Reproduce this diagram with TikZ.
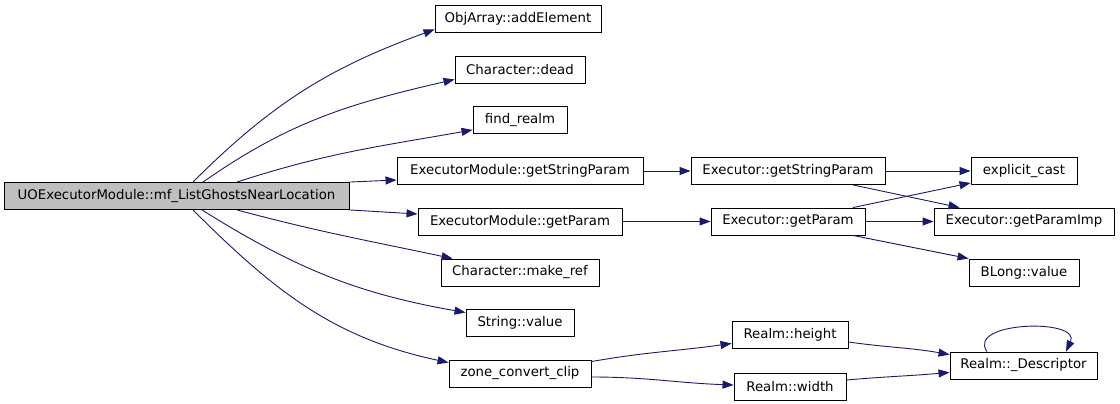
\documentclass[tikz,border=0pt]{standalone}
\usepackage{fontspec}
\setmainfont{DejaVu Sans}
\usetikzlibrary{arrows.meta}
\definecolor{edgeblue}{HTML}{191970}
\definecolor{maingray}{HTML}{BFBFBF}

\begin{document}
\begin{tikzpicture}[
    x=1pt, y=1pt,
    >={Triangle[length=11pt, width=8pt]},
    fnode/.style={draw=black, line width=0.9pt, minimum height=27pt,
                  inner sep=0pt, fill=white,
                  font=\fontsize{13.3}{16}\selectfont},
    call/.style={->, draw=edgeblue, line width=0.9pt}
  ]
  \useasboundingbox[fill=white] (0,0) rectangle (1120,-404);

  \node[fnode, fill=maingray, minimum width=345pt] (main) at (176.5,-196)
    {UOExecutorModule::mf\_ListGhostsNearLocation};

  \node[fnode, minimum width=166pt] (objarray)   at (518,-18.5)  {ObjArray::addElement};
  \node[fnode, minimum width=130pt] (chardead)   at (520,-69.5)  {Character::dead};
  \node[fnode, minimum width=94pt]  (findrealm)  at (520,-120)   {find\_realm};
  \node[fnode, minimum width=246pt] (emstring)   at (520,-171)   {ExecutorModule::getStringParam};
  \node[fnode, minimum width=204pt] (emparam)    at (520,-221.5) {ExecutorModule::getParam};
  \node[fnode, minimum width=158pt] (makeref)    at (520,-272.5) {Character::make\_ref};
  \node[fnode, minimum width=108pt] (strvalue)   at (520,-322.5) {String::value};
  \node[fnode, minimum width=142pt] (zoneclip)   at (520,-373.5) {zone\_convert\_clip};

  \node[fnode, minimum width=194pt] (exstring)    at (788,-171)   {Executor::getStringParam};
  \node[fnode, minimum width=154pt] (exparam)     at (788,-221.5) {Executor::getParam};
  \node[fnode, minimum width=116pt] (realmheight) at (790,-334.5) {Realm::height};
  \node[fnode, minimum width=112pt] (realmwidth)  at (790,-386.5) {Realm::width};

  \node[fnode, minimum width=106pt] (explicitcast) at (1024,-171)   {explicit\_cast};
  \node[fnode, minimum width=180pt] (paramimp)     at (1024,-221.5) {Executor::getParamImp};
  \node[fnode, minimum width=110pt] (blongvalue)   at (1024,-272.5) {BLong::value};
  \node[fnode, minimum width=147pt] (descriptor)   at (1023.5,-365.5) {Realm::\_Descriptor};

  \draw[call] ([xshift=16.5pt]main.north) to[out=45, in=200] ([yshift=3pt]objarray.south west);
  \draw[call] ([xshift=26.5pt]main.north) to[out=35, in=193] ([yshift=4pt]chardead.south west);
  \draw[call] ([xshift=60.5pt]main.north) to[out=18, in=190] ([yshift=4pt]findrealm.south west);
  \draw[call] (main.north east) -- ([yshift=-9pt]emstring.west);
  \draw[call] (main.south east) -- ([yshift=7.5pt]emparam.west);
  \draw[call] ([xshift=60.5pt]main.south) to[out=-15, in=168] ([xshift=12pt]makeref.north west);
  \draw[call] ([xshift=25.5pt]main.south) to[out=-32, in=170] ([yshift=-4pt]strvalue.north west);
  \draw[call] ([xshift=16.5pt]main.south) to[out=-45, in=168] ([yshift=-3pt]zoneclip.north west);

  \draw[call] (emstring) -- (exstring);
  \draw[call] (emparam) -- (exparam);
  \draw[call] (exstring) -- (explicitcast);
  \draw[call] ([xshift=65pt]exstring.south) -- ([xshift=26pt]paramimp.north west);
  \draw[call] ([xshift=65pt]exparam.north) -- ([yshift=2pt]explicitcast.south west);
  \draw[call] (exparam) -- (paramimp);
  \draw[call] ([xshift=65pt]exparam.south) -- (blongvalue.north west);

  \draw[call] ([yshift=-2pt]zoneclip.north east) to[out=10, in=188] ([yshift=5pt]realmheight.south west);
  \draw[call] ([yshift=-3.5pt]zoneclip.east) to[out=0, in=178] ([yshift=1.5pt]realmwidth.west);
  \draw[call] ([yshift=-7.5pt]realmheight.east) to[out=-8, in=170] ([yshift=-3pt]descriptor.north west);
  \draw[call] ([yshift=6.5pt]realmwidth.east) to[out=5, in=185] ([yshift=7pt]descriptor.south west);
  \draw[call] ([xshift=-36.5pt]descriptor.north) to[out=125, in=65, looseness=1.2] ([xshift=42.5pt]descriptor.north);
\end{tikzpicture}
\end{document}
